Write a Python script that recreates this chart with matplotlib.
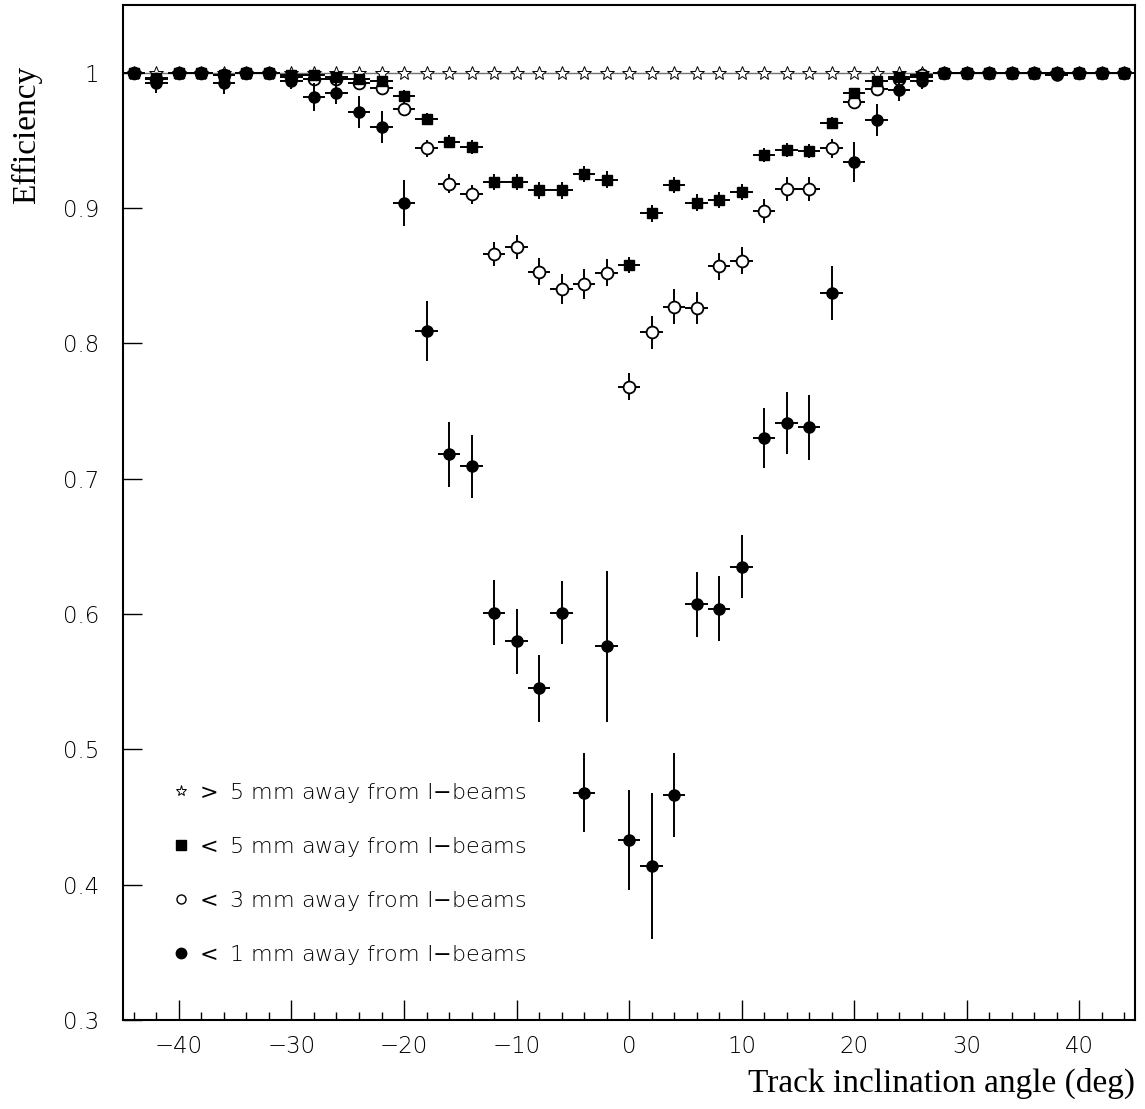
import numpy as np
import matplotlib
matplotlib.use("Agg")
import matplotlib.pyplot as plt
from matplotlib.lines import Line2D

# track inclination angle bins (deg), 2 deg wide
angle = np.arange(-44, 45, 2)

# > 5 mm away from I-beams
eff_far = [1.000] * 45

# < 5 mm away from I-beams
eff_5mm = [1.000, 0.996, 1.000, 1.000, 0.998, 1.000, 1.000, 0.998, 0.998, 0.997,
           0.995, 0.994, 0.983, 0.966, 0.949, 0.945, 0.919, 0.919, 0.913, 0.913,
           0.925, 0.921, 0.858, 0.896, 0.917, 0.904, 0.906, 0.912, 0.939, 0.943,
           0.942, 0.963, 0.985, 0.994, 0.997, 0.997, 1.000, 1.000, 1.000, 1.000,
           1.000, 1.000, 1.000, 1.000, 1.000]
err_5mm = [0.001, 0.002, 0.001, 0.001, 0.002, 0.001, 0.001, 0.002, 0.002, 0.002,
           0.003, 0.003, 0.004, 0.004, 0.005, 0.005, 0.006, 0.006, 0.006, 0.006,
           0.006, 0.006, 0.006, 0.006, 0.006, 0.006, 0.006, 0.006, 0.005, 0.005,
           0.005, 0.004, 0.003, 0.003, 0.002, 0.002, 0.001, 0.001, 0.001, 0.001,
           0.001, 0.001, 0.001, 0.001, 0.001]

# < 3 mm away from I-beams
eff_3mm = [1.000, 0.995, 1.000, 1.000, 0.998, 1.000, 1.000, 0.997, 0.995, 0.995,
           0.992, 0.989, 0.973, 0.944, 0.918, 0.910, 0.866, 0.871, 0.853, 0.840,
           0.844, 0.852, 0.768, 0.808, 0.827, 0.826, 0.857, 0.861, 0.898, 0.914,
           0.914, 0.944, 0.978, 0.988, 0.995, 0.998, 1.000, 1.000, 1.000, 1.000,
           1.000, 1.000, 1.000, 1.000, 1.000]
err_3mm = [0.001, 0.002, 0.001, 0.001, 0.002, 0.001, 0.001, 0.002, 0.003, 0.003,
           0.004, 0.005, 0.005, 0.006, 0.007, 0.007, 0.009, 0.009, 0.010, 0.011,
           0.011, 0.010, 0.010, 0.012, 0.013, 0.012, 0.010, 0.010, 0.009, 0.009,
           0.009, 0.007, 0.005, 0.004, 0.003, 0.002, 0.001, 0.001, 0.001, 0.001,
           0.001, 0.001, 0.001, 0.001, 0.001]

# < 1 mm away from I-beams
eff_1mm = [1.000, 0.992, 1.000, 1.000, 0.992, 1.000, 1.000, 0.994, 0.982, 0.985,
           0.971, 0.960, 0.904, 0.809, 0.718, 0.709, 0.601, 0.580, 0.545, 0.601,
           0.468, 0.576, 0.433, 0.414, 0.466, 0.607, 0.604, 0.635, 0.730, 0.741,
           0.738, 0.837, 0.934, 0.965, 0.987, 0.994, 1.000, 1.000, 1.000, 1.000,
           1.000, 0.998, 1.000, 1.000, 1.000]
err_1mm = [0.001, 0.007, 0.001, 0.001, 0.008, 0.001, 0.001, 0.006, 0.010, 0.008,
           0.012, 0.012, 0.017, 0.022, 0.024, 0.023, 0.024, 0.024, 0.025, 0.023,
           0.029, 0.056, 0.037, 0.054, 0.031, 0.024, 0.024, 0.023, 0.022, 0.023,
           0.024, 0.020, 0.015, 0.012, 0.008, 0.006, 0.001, 0.001, 0.001, 0.001,
           0.001, 0.002, 0.001, 0.001, 0.001]

labels = [r"$>$ 5 mm away from I$-$beams", r"$<$ 5 mm away from I$-$beams",
          r"$<$ 3 mm away from I$-$beams", r"$<$ 1 mm away from I$-$beams"]

plt.rcParams['mathtext.fontset'] = 'dejavusans'
tick_font = {'family': 'DejaVu Sans', 'weight': 'light', 'size': 16.5}

fig = plt.figure(figsize=(11.45, 11.09), dpi=100)
ax = fig.add_axes([0.1072, 0.0803, 0.8843, 0.9152])

# reference line of the far-from-beam sample
ax.plot(angle, eff_far, color='0.45', lw=1.0, marker='*', ms=10,
        mfc='white', mec='black', mew=0.7, zorder=2)

ebar = dict(xerr=1.0, fmt='none', ecolor='black', elinewidth=1.4, capsize=0)
ax.errorbar(angle, eff_3mm, yerr=err_3mm, **ebar, zorder=3)
ax.plot(angle, eff_3mm, ls='none', marker='o', ms=8.5, mfc='white',
        mec='black', mew=1.3, zorder=4)
ax.errorbar(angle, eff_5mm, yerr=err_5mm, **ebar, zorder=5)
ax.plot(angle, eff_5mm, ls='none', marker='s', ms=7.5, color='black', zorder=6)
ax.errorbar(angle, eff_1mm, yerr=err_1mm, **ebar, zorder=7)
ax.plot(angle, eff_1mm, ls='none', marker='o', ms=8, color='black', zorder=8)

ax.set_xlim(-45, 45)
ax.set_ylim(0.3, 1.05)
ax.set_xticks(np.arange(-40, 41, 10))
ax.set_xticks(np.arange(-44, 45, 2), minor=True)
ax.set_yticks(np.arange(0.3, 1.01, 0.1))
ax.set_yticklabels(['0.3', '0.4', '0.5', '0.6', '0.7', '0.8', '0.9', '1'])
ax.tick_params(axis='x', which='major', direction='in', length=14.5, width=1.0,
               pad=11, top=False)
ax.tick_params(axis='x', which='minor', direction='in', length=6, width=1.0,
               top=False)
ax.tick_params(axis='y', which='major', direction='in', length=14, width=1.0,
               pad=17, right=False)
for lab in ax.get_xticklabels() + ax.get_yticklabels():
    lab.set_fontfamily(tick_font['family'])
    lab.set_fontweight(tick_font['weight'])
    lab.set_fontsize(tick_font['size'])
    lab.set_color('black')
for sp in ax.spines.values():
    sp.set_linewidth(1.5)

handles = [
    Line2D([], [], ls='none', marker='*', ms=8, mfc='white', mec='black', mew=0.7),
    Line2D([], [], ls='none', marker='s', ms=7.5, color='black'),
    Line2D([], [], ls='none', marker='o', ms=6.5, mfc='white', mec='black', mew=1.0),
    Line2D([], [], ls='none', marker='o', ms=7.5, color='black'),
]
leg = ax.legend(handles, labels, loc='lower left', bbox_to_anchor=(0.036, 0.041),
                frameon=False, handlelength=1.0, handletextpad=0.1,
                labelspacing=1.35, borderpad=0,
                prop={'family': 'DejaVu Sans', 'weight': 'light', 'size': 16})

fig.text(27 / 1145, 1 - 135 / 1109, 'Efficiency', rotation=90, ha='center',
         va='center', family='Liberation Serif', fontsize=24)
fig.text(1135 / 1145, 1 - 1083 / 1109, 'Track inclination angle (deg)',
         ha='right', va='center', family='Liberation Serif', fontsize=24)

fig.savefig('out.png', dpi=100)
